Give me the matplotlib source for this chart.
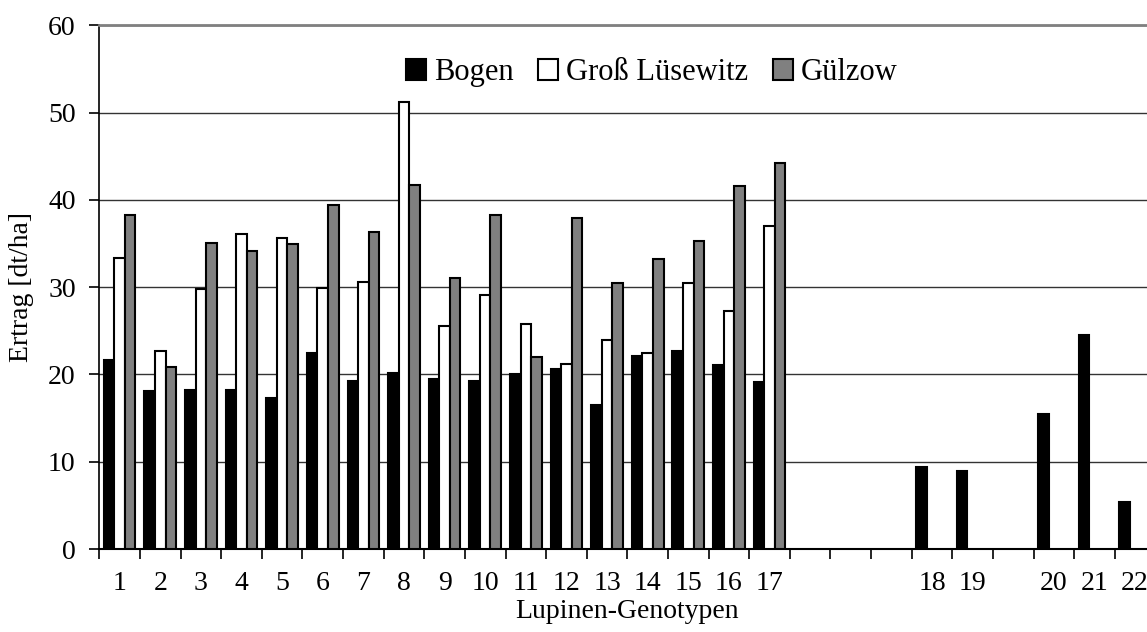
import matplotlib
matplotlib.use("Agg")
import matplotlib.pyplot as plt
from matplotlib.patches import Patch
import numpy as np

plt.rcParams['font.family'] = ['Liberation Serif', 'DejaVu Serif']

# ---------------- data ----------------
nan = np.nan
genotypes = ['1', '2', '3', '4', '5', '6', '7', '8', '9', '10', '11', '12', '13',
             '14', '15', '16', '17', '', '', '', '18', '19', '', '20', '21', '22']
bogen = [21.7, 18.1, 18.2, 18.2, 17.3, 22.5, 19.3, 20.2, 19.5, 19.2, 20.1, 20.6, 16.5,
         22.1, 22.7, 21.1, 19.1, nan, nan, nan, 9.4, 8.9, nan, 15.5, 24.5, 5.4]
gross_luesewitz = [33.3, 22.7, 29.8, 36.1, 35.6, 29.9, 30.6, 51.2, 25.6, 29.1, 25.8, 21.2, 23.9,
                   22.5, 30.5, 27.3, 37.0, nan, nan, nan, nan, nan, nan, nan, nan, nan]
guelzow = [38.3, 20.9, 35.1, 34.1, 34.9, 39.4, 36.3, 41.7, 31.1, 38.3, 22.0, 37.9, 30.5,
           33.2, 35.3, 41.6, 44.2, nan, nan, nan, nan, nan, nan, nan, nan, nan]
series_names = ['Bogen', 'Groß Lüsewitz', 'Gülzow']

# ---------------- plot ----------------
fig = plt.figure(figsize=(11.47, 6.32), dpi=100)
ax = fig.add_axes([0.0866, 0.1313, 0.9207, 0.8287])

x = np.arange(len(genotypes))
w = 0.26
styles = [('black', -w), ('white', 0.0), ('#808080', w)]
for vals, (col, off) in zip([bogen, gross_luesewitz, guelzow], styles):
    v = np.array(vals, dtype=float)
    m = ~np.isnan(v)
    ax.bar(x[m] + off, v[m], width=w, color=col, edgecolor='black', linewidth=1.5, zorder=3)

ax.set_xlim(-0.5, len(genotypes) - 0.5)
ax.set_ylim(0, 60)
ax.set_yticks(np.arange(0, 61, 10))
ax.yaxis.grid(True, color='#333333', linewidth=1.0)
ax.set_axisbelow(True)

# category axis: tick marks between categories, labels in the middle
ax.set_xticks(np.arange(-0.5, len(genotypes), 1.0))
ax.set_xticklabels([])
ax.set_xticks(x, minor=True)
ax.set_xticklabels(genotypes, minor=True)
ax.tick_params(axis='x', which='major', direction='out', length=7, width=1.2, color='black')
ax.tick_params(axis='x', which='minor', length=0, pad=16, labelsize=20)
ax.tick_params(axis='y', direction='out', length=7, width=1.2, pad=10, labelsize=20)

ax.spines['left'].set_color('black')
ax.spines['left'].set_linewidth(1.2)
ax.spines['bottom'].set_color('black')
ax.spines['bottom'].set_linewidth(1.5)
ax.spines['top'].set_color('#808080')
ax.spines['top'].set_linewidth(2)
ax.spines['right'].set_color('#808080')
ax.spines['right'].set_linewidth(2)

ax.set_xlabel('Lupinen-Genotypen', fontsize=20, labelpad=2)
ax.set_ylabel('Ertrag [dt/ha]', fontsize=20, labelpad=10)

handles = [Patch(facecolor='black', edgecolor='black', linewidth=1.5),
           Patch(facecolor='white', edgecolor='black', linewidth=1.5),
           Patch(facecolor='#808080', edgecolor='black', linewidth=1.5)]
ax.legend(handles, series_names, loc='center', bbox_to_anchor=(0.523, 0.9095), ncol=3,
          frameon=False, fontsize=22, handlelength=0.67, handleheight=0.67,
          handletextpad=0.25, columnspacing=0.8, borderpad=0)

fig.savefig('out.png', dpi=100)
